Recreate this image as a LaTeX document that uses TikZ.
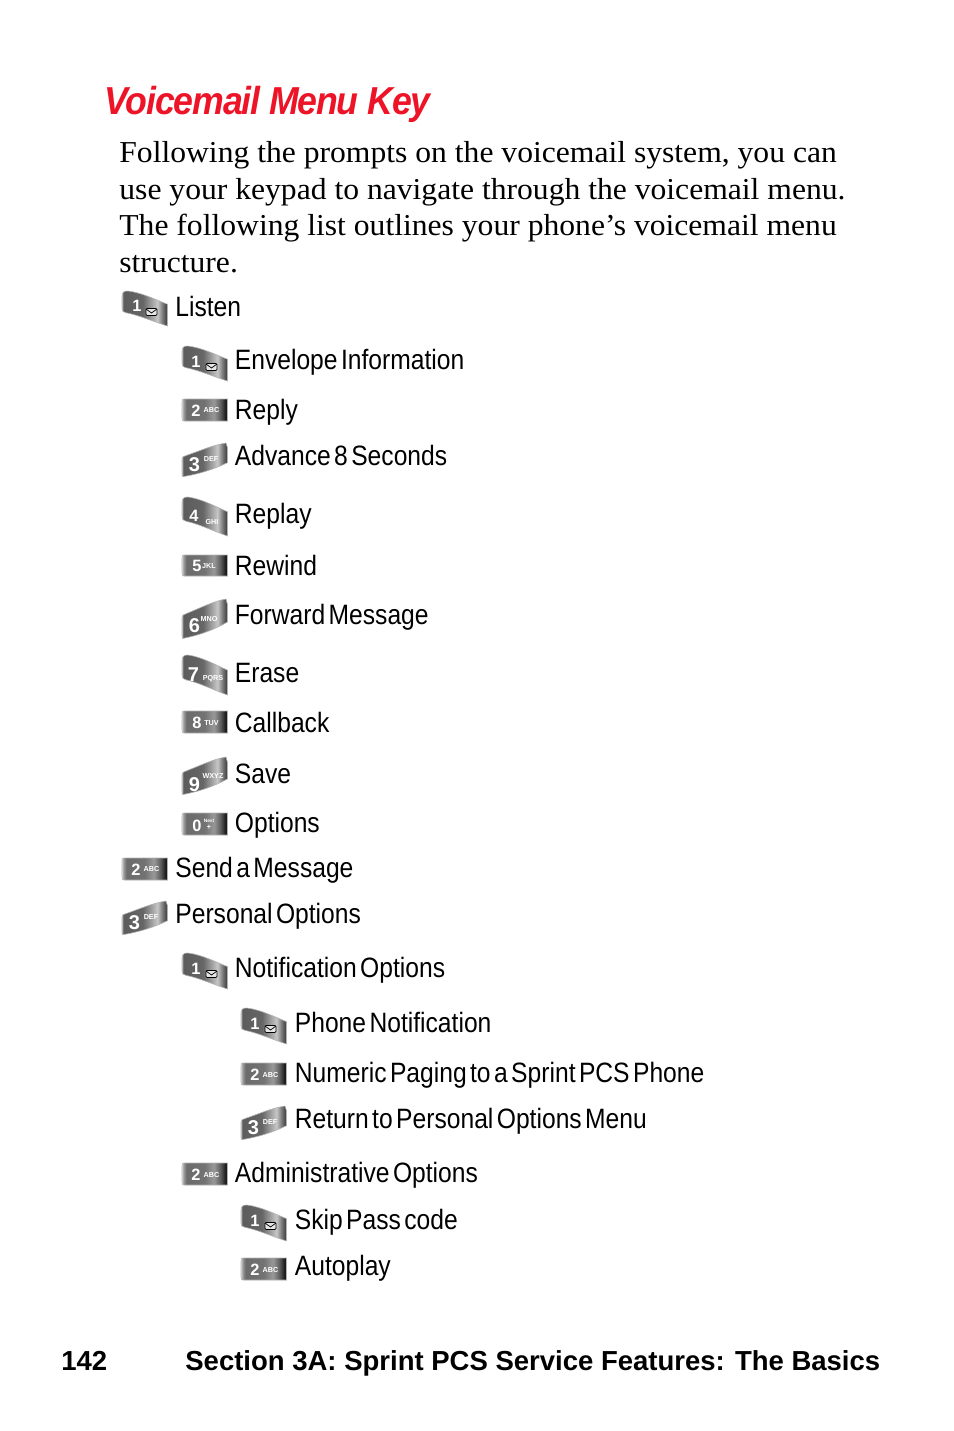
\documentclass[tikz,border=0pt]{standalone}
\usepackage{fontspec}
\setmainfont{Liberation Serif}
\newfontfamily\titlefont[FakeStretch=0.915,LetterSpace=-3]{Liberation Sans}
\newfontfamily\bodyfont[FakeStretch=1.04]{Liberation Serif}
\newfontfamily\menufont[FakeStretch=0.88,WordSpace=0.5]{Liberation Sans}
\newfontfamily\footfont{Liberation Sans}

\definecolor{titlered}{RGB}{237,20,40}

\pgfdeclarehorizontalshading{keyshade}{100bp}{
  rgb(0bp)=(0.75,0.75,0.75);
  rgb(25bp)=(0.75,0.75,0.75);
  rgb(26.5bp)=(0.36,0.36,0.36);
  rgb(48bp)=(0.40,0.40,0.40);
  rgb(64bp)=(0.78,0.78,0.78);
  rgb(70bp)=(0.45,0.45,0.45);
  rgb(75bp)=(0.22,0.22,0.22);
  rgb(100bp)=(0.22,0.22,0.22)}

\pgfdeclarehorizontalshading{keyflatshade}{100bp}{
  rgb(0bp)=(0.85,0.85,0.85);
  rgb(25bp)=(0.85,0.85,0.85);
  rgb(26.5bp)=(0.62,0.62,0.62);
  rgb(30bp)=(0.42,0.42,0.42);
  rgb(50bp)=(0.45,0.45,0.45);
  rgb(60bp)=(0.60,0.60,0.60);
  rgb(67bp)=(0.38,0.38,0.38);
  rgb(73bp)=(0.10,0.10,0.10);
  rgb(100bp)=(0.10,0.10,0.10)}

\newcommand{\keydownpath}{(0,.15) .. controls (0,.03) and (2,0) .. (6,0)
  .. controls (20,.05) and (34,.25) .. (45.5,.38) -- (45.5,1)
  .. controls (32,.88) and (18,.7) .. (4,.62)
  .. controls (1,.6) and (0,.58) .. (0,.5) -- cycle}
\newcommand{\keyuppath}{(1,.96) .. controls (18,.88) and (32,.75) .. (45.5,.56) -- (45.5,.14)
  -- (44,0) .. controls (32,.05) and (18,.22) .. (4,.36)
  .. controls (1,.38) and (0,.4) .. (0,.46) -- (0,.9) .. controls (0,.95) and (.3,.98) .. (1,.96) -- cycle}
\newcommand{\keyflatpath}{(0,.15) .. controls (0,.03) and (.5,0) .. (2,0) -- (45.5,0) -- (45.5,1)
  -- (2,1) .. controls (.5,1) and (0,.97) .. (0,.85) -- cycle}
\newcommand{\bigdigit}{\fontsize{10}{10}\selectfont}

\tikzset{
  x=0.5pt, y=-0.5pt,
  keyface/.style={shading=keyshade, draw=gray!60, line width=0.3pt},
  keyflat/.style={shading=keyflatshade, draw=gray!60, line width=0.3pt},
  keydigit/.style={inner sep=0pt, text=white, font=\footfont\bfseries\fontsize{8.2}{8}\selectfont},
  keyletters/.style={inner sep=0pt, text=white, align=center,
    font=\footfont\bfseries\fontsize{3.6}{3.4}\selectfont},
  menulabel/.style={anchor=base west, inner sep=0pt, font=\menufont\fontsize{14}{16}\selectfont},
}

\begin{document}
\begin{tikzpicture}
    \useasboundingbox (0,0) rectangle (954,1431);

    \node[anchor=base west, inner sep=0pt, text=titlered,
      font=\titlefont\bfseries\itshape\fontsize{19.5}{22}\selectfont] (title) at (104,114) {Voicemail Menu Key};

    \node[anchor=north west, inner sep=0pt, align=left,
      font=\bodyfont\fontsize{15.2}{18.25}\selectfont] (intro) at (119,141)
      {Following the prompts on the voicemail system, you can\\
       use your keypad to navigate through the voicemail menu.\\
       The following list outlines your phone’s voicemail menu\\
       structure.};

    % keys: name/left/top/height/style/outline/digit/dx/dy/letters/lx/ly
    \foreach \kname/\kx/\ky/\kh/\kstyle/\kpath/\dg/\dx/\dy/\ltr/\lx/\ly in {
      listen/122/291/35/keyface/\keydownpath/1/15/15//0/0,
      envelope/182/346/35/keyface/\keydownpath/1/14/16//0/0,
      reply/182/399/22/keyflat/\keyflatpath/2/14/11.5/ABC/29.5/11.5,
      advance/182/443/35/keyface/\keyuppath/{\bigdigit 3}/12.5/22/DEF/29/16,
      replay/182/497/39/keyface/\keydownpath/4/12/19/GHI/30/25,
      rewind/182/555/21/keyflat/\keyflatpath/5/15/11/JKL/27/11,
      forward/182/599/41/keyface/\keyuppath/{\bigdigit 6}/12.5/27/MNO/27/20,
      erase/182/655/40/keyface/\keydownpath/{\bigdigit 7}/11.5/19.5/PQRS/31/24,
      callback/182/711/22/keyflat/\keyflatpath/8/15/12/TUV/29.5/12,
      save/182/757/39/keyface/\keyuppath/{\bigdigit 9}/12.5/28/WXYZ/31/19,
      options/182/813/22/keyflat/\keyflatpath/0/15/13/{{\fontsize{2.4}{3}\selectfont Next}\\+}/27/11,
      send/122/858/22/keyflat/\keyflatpath/2/14/11.5/ABC/29.5/11.5,
      personal/122/901/35/keyface/\keyuppath/{\bigdigit 3}/12.5/22/DEF/29/16,
      notify/182/953/36/keyface/\keydownpath/1/14/16//0/0,
      phone/241/1008/36/keyface/\keydownpath/1/14/16//0/0,
      numeric/241/1063/22/keyflat/\keyflatpath/2/14/12/ABC/29.5/12,
      return/241/1106/35/keyface/\keyuppath/{\bigdigit 3}/12.5/22/DEF/29/16,
      admin/182/1163/22/keyflat/\keyflatpath/2/14/12/ABC/29.5/12,
      skip/241/1205/36/keyface/\keydownpath/1/14/16//0/0,
      autoplay/241/1258/22/keyflat/\keyflatpath/2/14/12/ABC/29.5/12}
    {
      \begin{scope}[shift={(\kx,\ky)}]
        \begin{scope}[yscale=\kh]
          \path[\kstyle] \kpath;
        \end{scope}
        \node[keydigit] (\kname key) at (\dx,\dy) {\dg};
        \node[keyletters] (\kname abc) at (\lx,\ly) {\ltr};
      \end{scope}
    }

    % envelope marks on the 1 keys
    \foreach \ex/\ey in {122/291,182/346,182/953,241/1008,241/1205}
    {
      \begin{scope}[shift={(\ex+29.5,\ey+21)}]
        \draw[black, fill=white!80!gray, line width=0.35pt, rounded corners=0.6pt] (-5.5,-3.5) rectangle (5.5,3.5);
        \draw[black, line width=0.35pt] (-5.5,-3) -- (0,1) -- (5.5,-3);
      \end{scope}
    }

    \foreach \lname/\lx/\ly/\ltext in {
      listenlabel/175/316/Listen,
      envelopelabel/234.5/369/Envelope Information,
      replylabel/234.5/419/Reply,
      advancelabel/234.5/465/Advance 8 Seconds,
      replaylabel/234.5/523/Replay,
      rewindlabel/234.5/575/Rewind,
      forwardlabel/234.5/624/Forward Message,
      eraselabel/234.5/682/Erase,
      callbacklabel/234.5/732/Callback,
      savelabel/234.5/783/Save,
      optionslabel/234.5/832/Options,
      sendlabel/175/877/Send a Message,
      personallabel/175/923/Personal Options,
      notifylabel/234.5/977/Notification Options,
      phonelabel/294.5/1032/Phone Notification,
      numericlabel/294.5/1082/Numeric Paging to a Sprint PCS Phone,
      returnlabel/294.5/1128/Return to Personal Options Menu,
      adminlabel/234.5/1182/Administrative Options,
      skiplabel/294.5/1229/Skip Pass code,
      autoplaylabel/294.5/1275/Autoplay}
      \node[menulabel] (\lname) at (\lx,\ly) {\ltext};

    \node[anchor=base west, inner sep=0pt, font=\footfont\bfseries\fontsize{13.75}{16}\selectfont] (pagenum) at (61,1370) {142};
    \node[anchor=base west, inner sep=0pt, font=\footfont\bfseries\fontsize{13.75}{16}\selectfont] (section) at (185,1370)
      {Section 3A: Sprint PCS Service Features: The Basics};
\end{tikzpicture}
\end{document}
